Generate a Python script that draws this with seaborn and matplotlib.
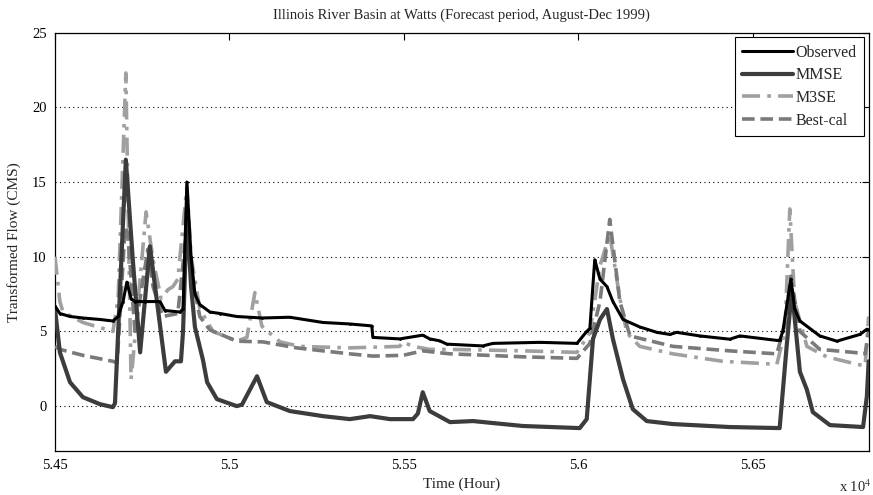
import matplotlib
matplotlib.use("Agg")
import matplotlib.pyplot as plt
import seaborn as sns
import pandas as pd
from matplotlib.ticker import FuncFormatter

# ---- data (time in hours, transformed flow in CMS) ----
obs_t = [54500, 54514, 54543, 54580, 54629, 54666, 54681, 54695, 54706, 54718,
         54729, 54758, 54801, 54815, 54858, 54867, 54878, 54890, 54901, 54915,
         54944, 54973, 55021, 55093, 55173, 55268, 55345, 55408, 55411, 55488,
         55554, 55574, 55603, 55623, 55726, 55755, 55890, 55996, 56024, 56033,
         56047, 56062, 56082, 56099, 56128, 56176, 56225, 56262, 56282, 56348,
         56434, 56463, 56569, 56577, 56586, 56609, 56620, 56635, 56692, 56741,
         56807, 56827, 56832]
obs_y = [6.7, 6.2, 6.0, 5.9, 5.8, 5.7, 6.0, 7.0, 8.3, 7.2,
         7.0, 7.0, 7.0, 6.4, 6.3, 6.5, 15.0, 10.0, 7.5, 6.8,
         6.3, 6.2, 6.0, 5.9, 5.95, 5.6, 5.5, 5.37, 4.6, 4.5,
         4.75, 4.5, 4.37, 4.15, 4.03, 4.2, 4.27, 4.2, 5.0, 5.2,
         9.8, 8.5, 8.0, 7.0, 5.8, 5.3, 4.94, 4.8, 4.94, 4.7,
         4.48, 4.7, 4.4, 4.4, 5.0, 8.5, 6.5, 5.7, 4.7, 4.35,
         4.8, 5.15, 5.1]

mmse_t = [54500, 54514, 54543, 54580, 54629, 54666, 54672, 54686, 54703, 54723,
          54744, 54772, 54789, 54818, 54844, 54861, 54867, 54878, 54890, 54901,
          54924, 54936, 54964, 55021, 55036, 55079, 55107, 55173, 55268, 55345,
          55403, 55460, 55526, 55540, 55554, 55574, 55632, 55698, 55841, 56004,
          56024, 56042, 56062, 56082, 56099, 56128, 56156, 56196, 56271, 56434,
          56577, 56597, 56612, 56635, 56655, 56672, 56721, 56816, 56827, 56832]
mmse_y = [6.5, 3.6, 1.6, 0.6, 0.13, -0.07, 0.2, 7.6, 16.5, 9.8,
          3.6, 10.7, 7.6, 2.3, 3.0, 3.0, 5.0, 13.0, 8.0, 5.3,
          3.1, 1.6, 0.47, 0.0, 0.1, 2.0, 0.27, -0.33, -0.67, -0.87,
          -0.67, -0.87, -0.87, -0.5, 0.93, -0.33, -1.07, -1.0, -1.33, -1.47,
          -0.87, 4.5, 5.8, 6.5, 4.5, 1.8, -0.2, -1.0, -1.2, -1.4,
          -1.47, 4.0, 7.8, 2.3, 1.1, -0.4, -1.27, -1.4, 0.67, 3.0]

m3se_t = [54500, 54514, 54523, 54580, 54666, 54681, 54703, 54718, 54723, 54761,
          54781, 54804, 54824, 54838, 54852, 54878, 54890, 54915, 54953, 55021,
          55050, 55073, 55093, 55145, 55202, 55345, 55488, 55497, 55526, 55574,
          55632, 55841, 55996, 56033, 56062, 56090, 56119, 56139, 56176, 56271,
          56414, 56569, 56592, 56606, 56620, 56655, 56712, 56799, 56822, 56832]
m3se_y = [10.0, 7.0, 6.3, 5.6, 5.0, 7.2, 22.3, 1.8, 3.0, 13.0,
          9.8, 7.2, 7.8, 8.0, 8.5, 14.7, 10.0, 6.5, 5.0, 4.35,
          4.6, 7.6, 5.35, 4.3, 4.0, 3.9, 4.0, 4.3, 4.0, 3.8,
          3.8, 3.7, 3.6, 4.9, 9.4, 11.5, 7.2, 4.9, 4.0, 3.5,
          3.0, 2.8, 5.0, 13.2, 7.0, 4.0, 3.3, 2.8, 2.7, 6.0]

best_t = [54500, 54514, 54580, 54666, 54678, 54686, 54701, 54709, 54729, 54766,
          54781, 54809, 54852, 54878, 54890, 54915, 54944, 55021, 55096, 55193,
          55268, 55345, 55411, 55497, 55554, 55632, 55741, 55841, 55996, 56033,
          56062, 56090, 56119, 56148, 56271, 56434, 56569, 56592, 56609, 56635,
          56692, 56787, 56822, 56832]
best_y = [4.0, 3.8, 3.4, 3.0, 2.9, 6.0, 12.0, 11.5, 5.0, 10.5,
          8.0, 6.0, 6.2, 12.0, 9.0, 6.0, 5.1, 4.35, 4.3, 3.9,
          3.7, 3.5, 3.35, 3.4, 3.7, 3.5, 3.4, 3.3, 3.2, 4.2,
          7.0, 12.5, 7.0, 4.7, 4.0, 3.7, 3.5, 5.5, 8.7, 5.0,
          3.8, 3.6, 3.5, 5.0]

series_names = ["Observed", "MMSE", "M3SE", "Best-cal"]
x_ticks = [54500, 55000, 55500, 56000, 56500]
y_ticks = [0, 5, 10, 15, 20, 25]

# ---- style ----
sns.set_style("white")
plt.rcParams["font.family"] = ["Liberation Serif", "DejaVu Serif"]
plt.rcParams["mathtext.fontset"] = "stix"

fig = plt.figure(figsize=(8.73, 4.95), dpi=100)
ax = fig.add_axes([0.063, 0.089, 0.932, 0.845])

df_obs = pd.DataFrame({"t": obs_t, "y": obs_y})
df_mmse = pd.DataFrame({"t": mmse_t, "y": mmse_y})
df_m3se = pd.DataFrame({"t": m3se_t, "y": m3se_y})
df_best = pd.DataFrame({"t": best_t, "y": best_y})

sns.lineplot(data=df_obs, x="t", y="y", ax=ax, color="black", lw=2.2,
             marker=".", markersize=4, markeredgewidth=0, sort=False,
             estimator=None, label=series_names[0], zorder=5)
sns.lineplot(data=df_mmse, x="t", y="y", ax=ax, color="#3c3c3c", lw=3.0,
             sort=False, estimator=None, label=series_names[1], zorder=4)
sns.lineplot(data=df_m3se, x="t", y="y", ax=ax, color="#a0a0a0", lw=2.6,
             sort=False, estimator=None, label=series_names[2], zorder=3,
             dashes=False)
sns.lineplot(data=df_best, x="t", y="y", ax=ax, color="#7a7a7a", lw=2.6,
             sort=False, estimator=None, label=series_names[3], zorder=3,
             dashes=False)

lines = ax.get_lines()
lines[2].set_dashes([5, 2, 1, 2])
lines[3].set_dashes([3.5, 1.6])

ax.set_xlim(54500, 56832)
ax.set_ylim(-3, 25)
ax.set_xticks(x_ticks)
ax.set_yticks(y_ticks)
ax.xaxis.set_major_formatter(FuncFormatter(lambda v, p: f"{v/1e4:g}"))
ax.tick_params(direction="in", length=5, width=0.8, top=True, right=True,
               labelsize=10.5, colors="black", pad=6)
for s in ax.spines.values():
    s.set_color("black")
    s.set_linewidth(0.9)

ax.yaxis.grid(True, linestyle=(0, (1, 3)), color="black", lw=0.8)
ax.xaxis.grid(False)

ax.set_title("Illinois River Basin at Watts (Forecast period, August-Dec 1999)",
             fontsize=10.5, pad=10)
ax.set_xlabel("Time (Hour)", fontsize=11, labelpad=4)
ax.set_ylabel("Transformed Flow (CMS)", fontsize=11, labelpad=8)
fig.text(0.998, 0.0, "x 10$^4$", ha="right", va="bottom", fontsize=10.5)

leg = ax.legend(loc="upper right", fontsize=11.5, frameon=True, fancybox=False,
                edgecolor="black", framealpha=1, handlelength=3.2,
                borderpad=0.45, labelspacing=0.42, handletextpad=0.15,
                borderaxespad=0.3)
leg.get_frame().set_linewidth(0.8)

fig.savefig("out.png", dpi=100)
